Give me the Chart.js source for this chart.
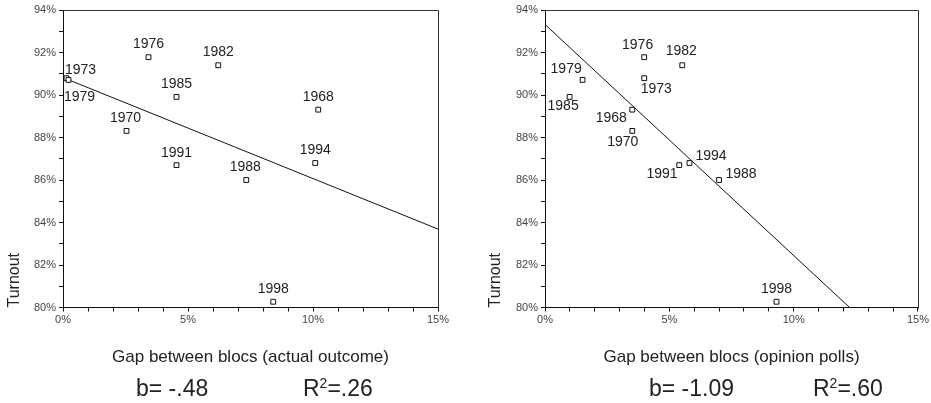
<!DOCTYPE html>
<html><head><meta charset="utf-8">
<script src="https://cdn.jsdelivr.net/npm/chart.js@4/dist/chart.umd.min.js"></script>
<style>
html,body{margin:0;padding:0;background:#fff;}
#wrap{position:relative;width:931px;height:403px;overflow:hidden;}
.c{position:absolute;top:0;height:403px;}
#cL{left:0;width:465px;}
#cR{left:465px;width:466px;}
</style></head><body>
<div id="wrap">
<div class="c" id="cL"><canvas id="left"></canvas></div>
<div class="c" id="cR"><canvas id="right"></canvas></div>
</div>
<script>
// ---- data ----
const years     = ['1968','1970','1973','1976','1979','1982','1985','1988','1991','1994','1998'];
const turnout   = [89.31, 88.31, 90.79, 91.78, 90.71, 91.40, 89.91, 86.00, 86.70, 86.80, 80.27];
const gapActual = [10.21, 2.54, 0.14, 3.42, 0.22, 6.21, 4.54, 7.33, 4.54, 10.09, 8.41];
const gapPolls  = [3.51, 3.51, 3.99, 3.99, 1.51, 5.52, 0.99, 7.00, 5.40, 5.81, 9.31];
const fitActualX = [0, 15];
const fitActualY = [90.82, 83.69];
const fitPollsX  = [0, 12.25];
const fitPollsY  = [93.32, 80.0];
const xTitleActual = 'Gap between blocs (actual outcome)';
const xTitlePolls  = 'Gap between blocs (opinion polls)';
const yTitle = 'Turnout';
const bActual = 'b= -.48', r2Actual = '=.26';
const bPolls  = 'b= -1.09', r2Polls = '=.60';

// ---- styling (label offsets in px, layout) ----
const offActual = [[0,-13],[-1,-13],[14,-8],[0,-13],[11,17],[0,-13],[0,-13],[-1,-13],[0,-12],[0,-13],[0,-13]];
const offPolls  = [[-21,8],[-9.5,11.4],[12,11.3],[-6.6,-11.7],[-16.4,-10.3],[-1,-14.3],[-6.5,9.4],[22,-6],[-17.3,9],[21.5,-6.6],[0,-12.4]];

const FAM = "'Liberation Sans', Arial, Helvetica, sans-serif";
Chart.defaults.font.family = FAM;

const labelsPlugin = {
  id: 'ptLabels',
  afterDatasetsDraw(chart, args, opts) {
    const ctx = chart.ctx;
    const meta = chart.getDatasetMeta(0);
    ctx.save();
    ctx.font = '14px ' + FAM;
    ctx.fillStyle = '#222';
    ctx.textAlign = 'center';
    ctx.textBaseline = 'middle';
    meta.data.forEach((el, i) => {
      const o = opts.offsets[i];
      ctx.fillText(years[i], el.x + o[0], el.y + o[1]);
    });
    ctx.restore();
  }
};
const boxPlugin = {
  id: 'box',
  afterDraw(chart) {
    const {ctx, chartArea: a} = chart;
    ctx.save();
    ctx.strokeStyle = '#333';
    ctx.lineWidth = 1;
    ctx.beginPath();
    ctx.moveTo(Math.round(a.left) + 0.5, Math.round(a.top) + 0.5);
    ctx.lineTo(Math.round(a.right) + 0.5, Math.round(a.top) + 0.5);
    ctx.lineTo(Math.round(a.right) + 0.5, Math.round(a.bottom) + 0.5);
    ctx.stroke();
    ctx.restore();
  }
};
const statsPlugin = {
  id: 'stats',
  afterDraw(chart, args, opts) {
    const {ctx, chartArea: a} = chart;
    ctx.save();
    ctx.fillStyle = '#222';
    ctx.textAlign = 'left';
    ctx.textBaseline = 'alphabetic';
    const base = opts.y;
    ctx.font = '23px ' + FAM;
    ctx.fillText(opts.b, a.left + opts.x[0], base);
    let x = a.left + opts.x[1];
    ctx.fillText('R', x, base);
    x += ctx.measureText('R').width;
    ctx.font = '14px ' + FAM;
    ctx.fillText('2', x, base - 8);
    x += ctx.measureText('2').width;
    ctx.font = '23px ' + FAM;
    ctx.fillText(opts.r2, x, base);
    ctx.restore();
  }
};

function makeChart(id, gaps, fx, fy, xTitle, bText, r2Text, offsets, pad, yWidth, statX) {
  const pts = gaps.map((g, i) => ({x: g, y: turnout[i]}));
  const fit = fx.map((v, i) => ({x: v, y: fy[i]}));
  return new Chart(document.getElementById(id), {
    type: 'scatter',
    data: {datasets: [
      {data: pts, pointStyle: 'rect', pointRadius: 3.4, borderColor: '#111', backgroundColor: '#fff', borderWidth: 1, order: 0},
      {type: 'line', data: fit, borderColor: '#111', borderWidth: 1, pointRadius: 0, fill: false, order: 1}
    ]},
    options: {
      responsive: true, maintainAspectRatio: false, animation: false,
      layout: {padding: {left: pad.left, right: pad.right, top: 10, bottom: 0}},
      plugins: {
        legend: {display: false}, tooltip: {enabled: false},
        ptLabels: {offsets: offsets},
        stats: {b: bText, r2: r2Text, x: statX, y: 396}
      },
      scales: {
        x: {
          type: 'linear', min: 0, max: 15,
          ticks: {stepSize: 1, autoSkip: false, maxRotation: 0, color: '#444', font: {size: 11}, padding: 2,
                  callback: v => (v % 5 === 0 ? v + '%' : '')},
          grid: {drawOnChartArea: false, tickLength: 4, color: '#111'},
          border: {color: '#111', width: 1},
          title: {display: true, text: xTitle, font: {size: 17}, color: '#222', padding: {top: 0, bottom: 35}},
          afterFit: s => { s.height = 95.5; }
        },
        y: {
          type: 'linear', min: 80, max: 94,
          ticks: {stepSize: 1, autoSkip: false, color: '#444', font: {size: 11}, padding: 3,
                  callback: v => (v % 2 === 0 ? v + '%' : '')},
          grid: {drawOnChartArea: false, tickLength: 4, color: '#111'},
          border: {color: '#111', width: 1},
          title: {display: true, text: yTitle, align: 'start', font: {size: 16}, color: '#222', padding: {top: 5, bottom: 0}},
          afterFit: s => { s.width = yWidth; }
        }
      }
    },
    plugins: [labelsPlugin, boxPlugin, statsPlugin]
  });
}

makeChart('left', gapActual, fitActualX, fitActualY, xTitleActual, bActual, r2Actual, offActual, {left: 0, right: 27}, 63, [73, 240]);
makeChart('right', gapPolls, fitPollsX, fitPollsY, xTitlePolls, bPolls, r2Polls, offPolls, {left: 16, right: 13}, 64, [104, 268]);
</script>
</body></html>
